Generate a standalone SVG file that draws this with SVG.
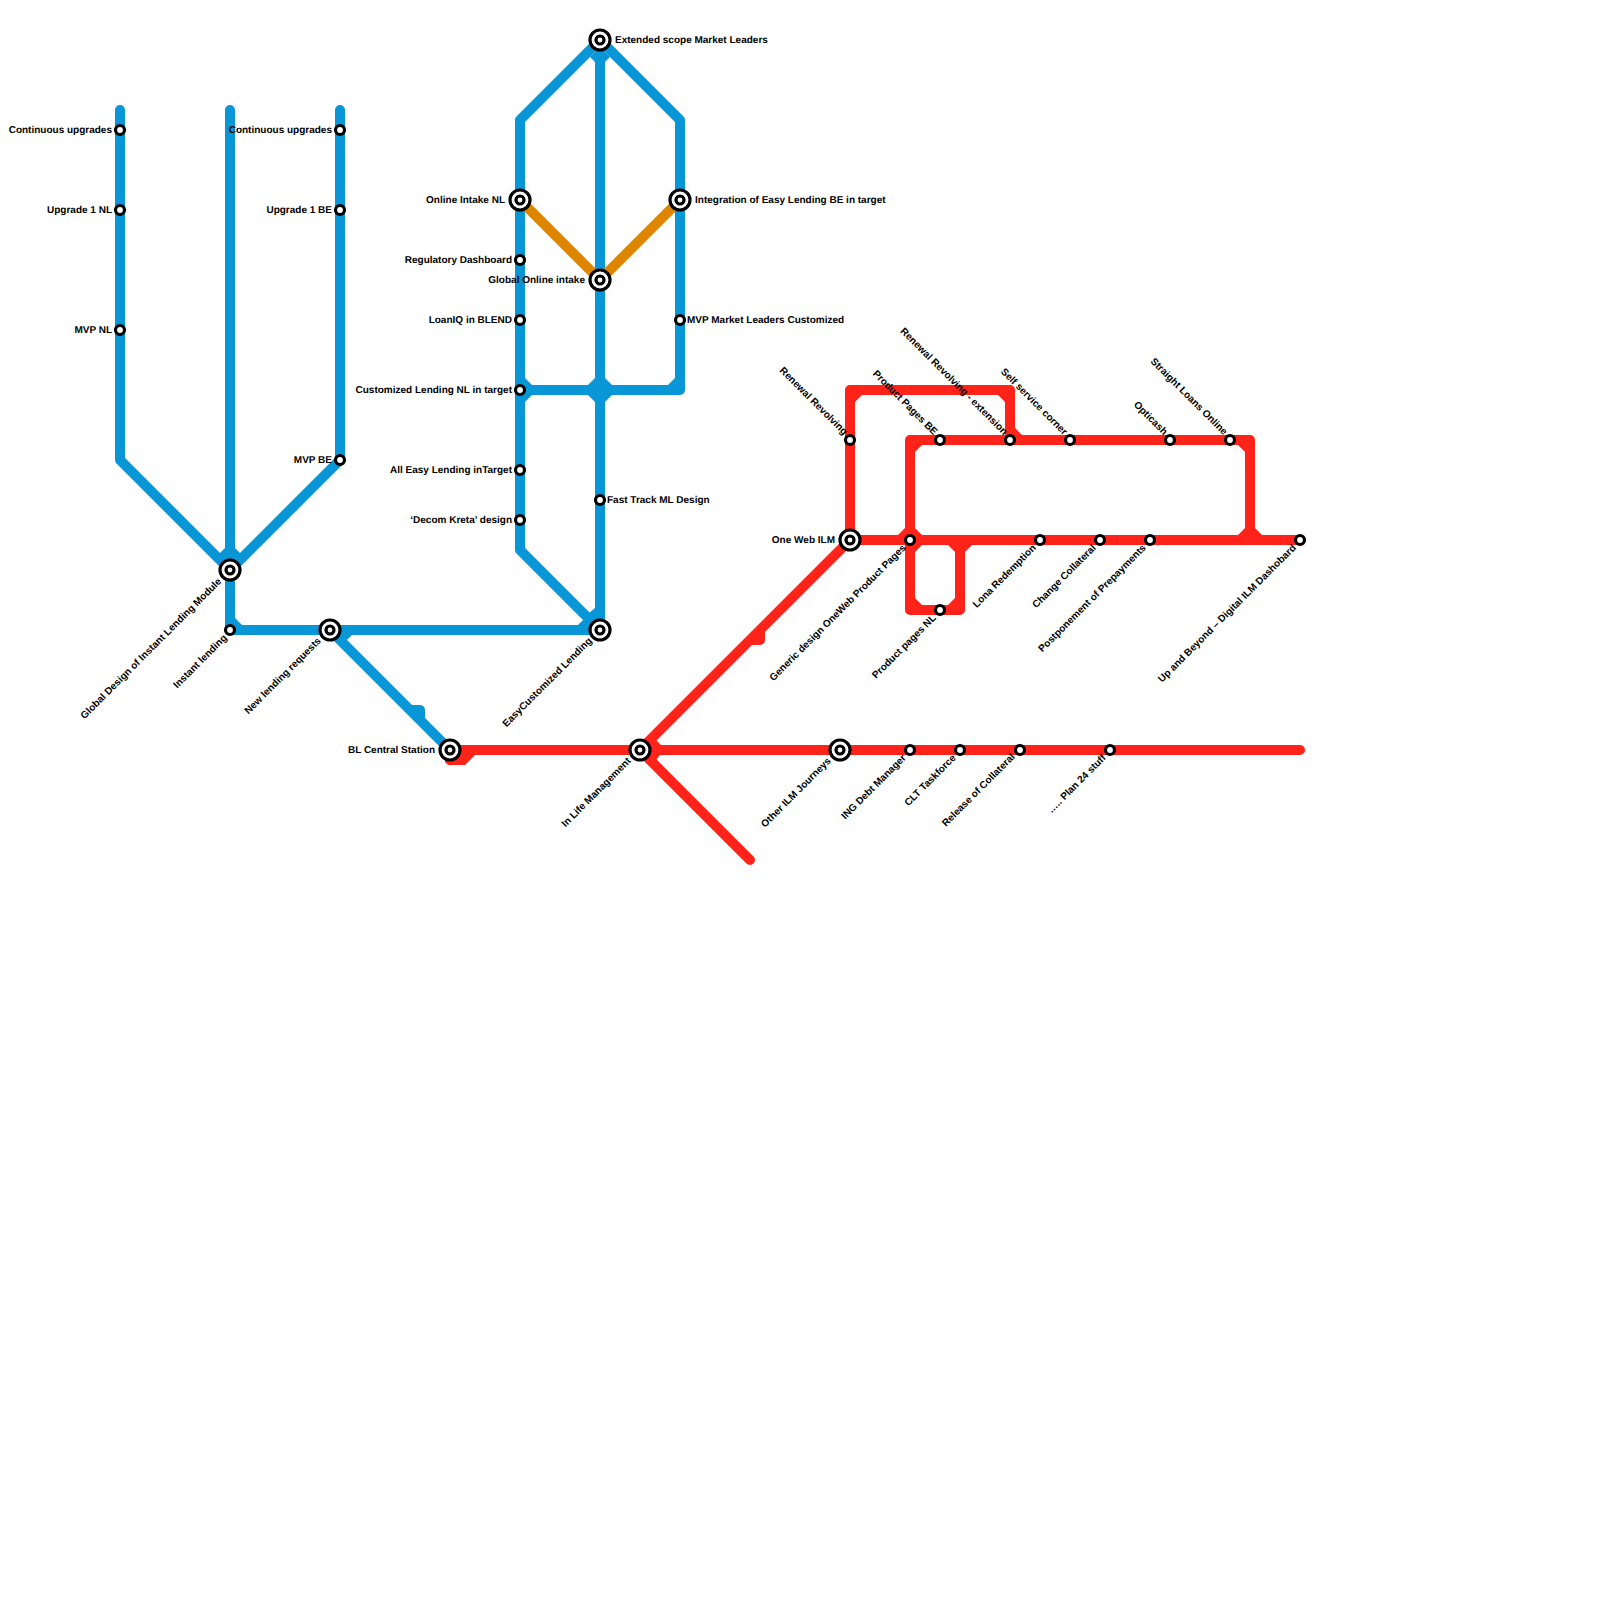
<svg xmlns="http://www.w3.org/2000/svg" width="1600" height="1600" viewBox="0 0 1600 1600">
<style>
.l{fill:none;stroke-width:10;stroke-linecap:round;stroke-linejoin:round}
.b{stroke:#0896d7}.r{stroke:#ff231a}.o{stroke:#df8600}
.fb{fill:#0896d7}.fr{fill:#ff231a}
.s{fill:#fff;stroke:#000;stroke-width:3.2}
text{font-family:"Liberation Sans",Arial,sans-serif;font-size:10px;font-weight:bold;fill:#000;text-rendering:geometricPrecision}
.e{text-anchor:end}
</style>
<defs>
<g id="small"><circle class="s" r="4.5"/></g>
<g id="big"><circle class="s" r="10"/><circle class="s" r="4"/></g>
</defs>
<g id="connectors">
<path class="l b" d="M120 110V460L230 570M230 110V630H600M340 110V460L230 570M330 630L450 750M410 710H420V720"/>
<path class="l b" d="M520 550V120L600 40L680 120V390H520M600 40V630M520 550L600 630"/>
<path class="l o" d="M520 200L600 280L680 200"/>
<path class="l r" d="M450 750H1300M640 750L850 540M640 750L750 860M750 640H760V630"/>
<path class="l r" d="M850 540H1300M850 540V390H1010V440M910 440H1250V540M910 440V610H960V540"/>
<g class="fb">
<polygon points="225,548 219,554 230,572 241,554 235,548"/>
<polygon points="235,618 235,625 242,625"/>
<polygon points="341,635 352,635 347,640"/>
<polygon points="590,57 595,62 605,62 610,57 600,47"/>
<polygon points="595,378 605,378 612,385 612,395 605,402 595,402 588,395 588,385"/>
<polygon points="525,378 525,385 532,385"/>
<polygon points="525,402 525,395 532,395"/>
<polygon points="675,378 675,385 668,385"/>
<polygon points="595,608 589,613 595,620"/>
<polygon points="578,625 583,620 590,625"/>
</g>
<g class="fr">
<polygon points="445,750 445,762 448,765 465,765 475,755 475,750"/>
<polygon points="650,745 661,745 655,739"/>
<polygon points="650,755 660,755 655,761"/>
<polygon points="855,395 855,402 862,395"/>
<polygon points="998,395 1005,395 1005,402"/>
<polygon points="1015,428 1015,435 1022,435"/>
<polygon points="915,445 915,452 922,445"/>
<polygon points="898,535 905,528 905,535"/>
<polygon points="915,528 922,535 915,535"/>
<polygon points="922,545 915,552 915,545"/>
<polygon points="948,545 955,552 955,545"/>
<polygon points="965,552 972,545 965,545"/>
<polygon points="915,598 922,605 915,605"/>
<polygon points="955,598 948,605 955,605"/>
<polygon points="1238,445 1245,452 1245,445"/>
<polygon points="1238,535 1245,528 1245,535"/>
<polygon points="1255,528 1262,535 1255,535"/>
</g>
</g>
<g id="n1"><use href="#small" x="120" y="130"/><text class="e" x="112" y="133">Continuous upgrades</text></g>
<g id="n2"><use href="#small" x="120" y="210"/><text class="e" x="112" y="213">Upgrade 1 NL</text></g>
<g id="n3"><use href="#small" x="120" y="330"/><text class="e" x="112" y="333">MVP NL</text></g>
<g id="n4"><use href="#small" x="340" y="130"/><text class="e" x="332" y="133">Continuous upgrades</text></g>
<g id="n5"><use href="#small" x="340" y="210"/><text class="e" x="332" y="213">Upgrade 1 BE</text></g>
<g id="n6"><use href="#small" x="340" y="460"/><text class="e" x="332" y="463">MVP BE</text></g>
<g id="n7"><use href="#big" x="230" y="570"/><text class="e" transform="translate(219.5 579.5) rotate(-45)" dy="3.5">Global Design of Instant Lending Module</text></g>
<g id="n8"><use href="#small" x="230" y="630"/><text class="e" transform="translate(225 636) rotate(-45)" dy="3.5">Instant lending</text></g>
<g id="n9"><use href="#big" x="330" y="630"/><text class="e" transform="translate(319 639) rotate(-45)" dy="3.5">New lending requests</text></g>
<g id="n10"><use href="#big" x="450" y="750"/><text class="e" x="435" y="753">BL Central Station</text></g>
<g id="n11"><use href="#big" x="600" y="40"/><text x="615" y="43">Extended scope Market Leaders</text></g>
<g id="n12"><use href="#big" x="520" y="200"/><text class="e" x="505" y="203">Online Intake NL</text></g>
<g id="n13"><use href="#small" x="520" y="260"/><text class="e" x="512" y="263">Regulatory Dashboard</text></g>
<g id="n14"><use href="#small" x="520" y="320"/><text class="e" x="512" y="323">LoanIQ in BLEND</text></g>
<g id="n15"><use href="#small" x="520" y="390"/><text class="e" x="512" y="393">Customized Lending NL in target</text></g>
<g id="n16"><use href="#small" x="520" y="470"/><text class="e" x="512" y="473">All Easy Lending inTarget</text></g>
<g id="n17"><use href="#small" x="520" y="520"/><text class="e" x="512" y="523">‘Decom Kreta’ design</text></g>
<g id="n18"><use href="#big" x="600" y="280"/><text class="e" x="585" y="283">Global Online intake</text></g>
<g id="n19"><use href="#big" x="680" y="200"/><text x="695" y="203">Integration of Easy Lending BE in target</text></g>
<g id="n20"><use href="#small" x="680" y="320"/><text x="687" y="323">MVP Market Leaders Customized</text></g>
<g id="n21"><use href="#small" x="600" y="500"/><text x="607" y="503">Fast Track ML Design</text></g>
<g id="n22"><use href="#big" x="600" y="630"/><text class="e" transform="translate(590 639) rotate(-45)" dy="3.5">EasyCustomized Lending</text></g>
<g id="n23"><use href="#big" x="640" y="750"/><text class="e" transform="translate(629 759) rotate(-45)" dy="3.5">In Life Management</text></g>
<g id="n24"><use href="#big" x="840" y="750"/><text class="e" transform="translate(829 759) rotate(-45)" dy="3.5">Other ILM Journeys</text></g>
<g id="n25"><use href="#small" x="910" y="750"/><text class="e" transform="translate(904 756) rotate(-45)" dy="3.5">ING Debt Manager</text></g>
<g id="n26"><use href="#small" x="960" y="750"/><text class="e" transform="translate(954 756) rotate(-45)" dy="3.5">CLT Taskforce</text></g>
<g id="n27"><use href="#small" x="1020" y="750"/><text class="e" transform="translate(1013 755) rotate(-45)" dy="3.5">Release of Collateral</text></g>
<g id="n28"><use href="#small" x="1110" y="750"/><text class="e" transform="translate(1104 756) rotate(-45)" dy="3.5">….. Plan 24 stuff</text></g>
<g id="n29"><use href="#big" x="850" y="540"/><text class="e" x="835" y="543">One Web ILM</text></g>
<g id="n30"><use href="#small" x="850" y="440"/><text class="e" transform="translate(846 433) rotate(45)" dy="3.5">Renewal Revolving</text></g>
<g id="n31"><use href="#small" x="940" y="440"/><text class="e" transform="translate(936 433) rotate(45)" dy="3.5">Product Pages BE</text></g>
<g id="n32"><use href="#small" x="1010" y="440"/><text class="e" transform="translate(1006 433) rotate(45)" dy="3.5">Renewal Revolving - extension</text></g>
<g id="n33"><use href="#small" x="1070" y="440"/><text class="e" transform="translate(1066 433) rotate(45)" dy="3.5">Self service corner</text></g>
<g id="n34"><use href="#small" x="1170" y="440"/><text class="e" transform="translate(1166 433) rotate(45)" dy="3.5">Opticash</text></g>
<g id="n35"><use href="#small" x="1230" y="440"/><text class="e" transform="translate(1226 433) rotate(45)" dy="3.5">Straight Loans Online</text></g>
<g id="n36"><use href="#small" x="910" y="540"/><text class="e" transform="translate(904 546) rotate(-45)" dy="3.5">Generic design OneWeb Product Pages</text></g>
<g id="n37"><use href="#small" x="940" y="610"/><text class="e" transform="translate(934 616) rotate(-45)" dy="3.5">Product pages NL</text></g>
<g id="n38"><use href="#small" x="1040" y="540"/><text class="e" transform="translate(1034 546) rotate(-45)" dy="3.5">Lona Redemption</text></g>
<g id="n39"><use href="#small" x="1100" y="540"/><text class="e" transform="translate(1094 546) rotate(-45)" dy="3.5">Change Collateral</text></g>
<g id="n40"><use href="#small" x="1150" y="540"/><text class="e" transform="translate(1144 546) rotate(-45)" dy="3.5">Postponement of Prepayments</text></g>
<g id="n41"><use href="#small" x="1300" y="540"/><text class="e" transform="translate(1294 546) rotate(-45)" dy="3.5">Up and Beyond – Digital ILM Dashobard</text></g>
</svg>
